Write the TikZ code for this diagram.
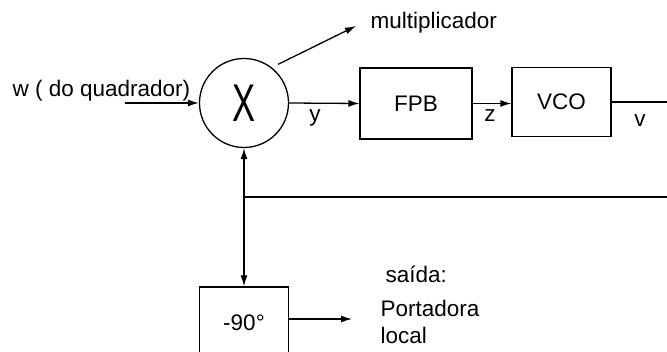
\documentclass[tikz,border=0pt]{standalone}
\usepackage{fontspec}
\setmainfont{Liberation Sans}
\usetikzlibrary{shapes,arrows.meta,positioning}

\begin{document}
\begin{tikzpicture}[x=1pt, y=-1pt, line width=1.3pt,
    >={Latex[length=11pt,width=7pt]},
    every node/.style={font=\fontsize{22.5}{26}\selectfont},
    bloco/.style={draw, rectangle, inner sep=0pt},
    lbl/.style={inner sep=0pt, anchor=base west},
    sinal/.style={inner sep=0pt, anchor=base}]
    \useasboundingbox (0,0) rectangle (667,352);
    \clip (0,0) rectangle (667,352);

    % Blocks
    \node[draw, circle, minimum size=89pt, inner sep=0pt] (mult) at (244,103)
      {\scalebox{1.15}[1.77]{\fontsize{30}{30}\selectfont X}};
    \node[bloco, minimum width=112pt, minimum height=71pt] (fpb) at (416,103.5) {FPB};
    \node[bloco, minimum width=99pt, minimum height=69pt] (vco) at (561.5,102) {VCO};
    \node[bloco, minimum width=89pt, minimum height=72pt] (fase) at (244,323) {-90°};

    % Free ends
    \coordinate (wIn) at (125,103);
    \coordinate (vOut) at (667,103);
    \coordinate (fbR) at (667,197);
    \coordinate (multOut) at (356,26);
    \coordinate (saida) at (352,319);

    % Connections
    \draw[->] (wIn) -- (mult.west);
    \draw[->] (mult.east) -- (fpb.west);
    \draw[->] (fpb.east) -- (fpb.east -| vco.west);
    \draw (vco.east) -- (vco.east -| vOut);
    \draw (fbR) -- (fbR -| mult.south);
    \draw[<->] (mult.south) -- (fase.north);
    \draw[->, shorten <=7pt] (mult.52) -- (multOut);
    \draw[->] (fase.east |- saida) -- (saida);

    % Labels
    \node[lbl] (wLbl) at (12,97) {w ( do quadrador)};
    \node[lbl] (multLbl) at (370,29) {multiplicador};
    \node[sinal] (yLbl) at (315,122) {y};
    \node[sinal] (zLbl) at (490,122) {z};
    \node[sinal] (vLbl) at (640,127) {v};
    \node[lbl] (saidaLbl) at (385,283) {saída:};
    \node[lbl] (portLbl) at (380,317) {Portadora};
    \node[lbl] (localLbl) at (380,344) {local};
\end{tikzpicture}
\end{document}
